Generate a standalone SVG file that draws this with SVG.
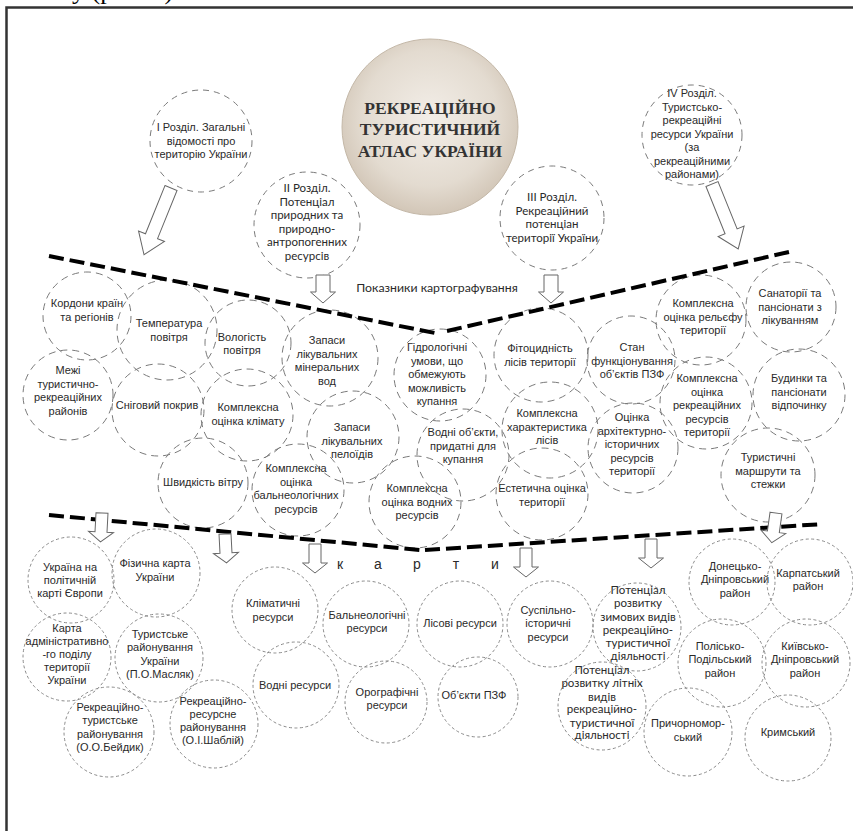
<svg xmlns="http://www.w3.org/2000/svg" width="853" height="831" viewBox="0 0 853 831">
<defs>
<radialGradient id="beige" cx="50%" cy="45%" r="55%">
<stop offset="0%" stop-color="#f3eee8"/>
<stop offset="70%" stop-color="#e3dbd0"/>
<stop offset="100%" stop-color="#d2c6b7"/>
</radialGradient>
<style>
.t{font-family:"Liberation Sans",Arial,sans-serif;font-size:11px;fill:#2a2a2a;text-anchor:middle}
.c{font-family:Lato,"Liberation Sans",sans-serif;font-size:11.5px;fill:#2a2a2a;text-anchor:middle}
.top{fill:none;stroke:#7a7a7a;stroke-width:1;stroke-dasharray:6 5}
.mid{fill:none;stroke:#7a7a7a;stroke-width:1;stroke-dasharray:7 5}
.bot{fill:none;stroke:#8a8a8a;stroke-width:1;stroke-dasharray:3 2.5}
.sep{fill:none;stroke:#000;stroke-width:4;stroke-dasharray:15 6}
.arr{fill:#fff;stroke:#666;stroke-width:1}
</style>
</defs>
<rect x="0" y="0" width="853" height="831" fill="#fff"/>
<text x="72" y="-1" font-family="Liberation Serif,serif" font-size="26" fill="#000">у (рис. 1)</text>
<rect x="6.5" y="7.5" width="900" height="900" fill="none" stroke="#333" stroke-width="2.5"/>

<g id="title">
<circle cx="430" cy="127" r="88" fill="url(#beige)" stroke="#c4b8a8" stroke-width="1"/>
<text font-family="Liberation Serif,serif" font-weight="bold" font-size="17.5" fill="#333" text-anchor="middle">
<tspan x="430" y="114">РЕКРЕАЦІЙНО</tspan><tspan x="430" y="135">ТУРИСТИЧНИЙ</tspan><tspan x="430" y="157">АТЛАС  УКРАЇНИ</tspan></text>
</g>

<g id="sec1"><circle class="top" cx="201" cy="141" r="51"/>
<text class="t"><tspan x="201" y="131">І Розділ. Загальні</tspan><tspan x="201" y="144.5">відомості про</tspan><tspan x="201" y="158">територію України</tspan></text></g>
<g id="sec2"><circle class="top" cx="307" cy="225" r="53"/>
<text class="c"><tspan x="307" y="192">II Розділ.</tspan><tspan x="307" y="205.5">Потенціал</tspan><tspan x="307" y="219">природних та</tspan><tspan x="307" y="232.5">природно-</tspan><tspan x="307" y="246">антропогенних</tspan><tspan x="307" y="259.5">ресурсів</tspan></text></g>
<g id="sec3"><circle class="top" cx="552" cy="218" r="52"/>
<text class="c"><tspan x="552" y="201">III Розділ.</tspan><tspan x="552" y="214.5">Рекреаційний</tspan><tspan x="552" y="228">потенціан</tspan><tspan x="552" y="241.5">території України</tspan></text></g>
<g id="sec4"><circle class="top" cx="692" cy="135" r="50"/>
<text class="t"><tspan x="692" y="97">ІV Розділ.</tspan><tspan x="692" y="110.5">Туристсько-</tspan><tspan x="692" y="124">рекреаційні</tspan><tspan x="692" y="137.5">ресурси України</tspan><tspan x="692" y="151">(за</tspan><tspan x="692" y="164.5">рекреаційними</tspan><tspan x="692" y="178">районами)</tspan></text></g>

<text id="lbl-pokaz" x="437" y="292" font-family="Lato,'Liberation Sans',sans-serif" font-size="12.3" fill="#2a2a2a" text-anchor="middle">Показники картографування</text>

<g id="m1"><circle class="mid" cx="87" cy="316" r="44"/><text class="t"><tspan x="87" y="307">Кордони країн</tspan><tspan x="87" y="321">та регіонів</tspan></text></g>
<g id="m2"><circle class="mid" cx="167" cy="330" r="50"/><text class="t"><tspan x="169" y="327">Температура</tspan><tspan x="169" y="341">повітря</tspan></text></g>
<g id="m3"><circle class="mid" cx="248" cy="343" r="43"/><text class="t"><tspan x="242" y="341">Вологість</tspan><tspan x="242" y="354">повітря</tspan></text></g>
<g id="m4"><circle class="mid" cx="68" cy="395" r="45"/><text class="t"><tspan x="68" y="374">Межі</tspan><tspan x="68" y="387.5">туристично-</tspan><tspan x="68" y="401">рекреаційних</tspan><tspan x="68" y="414.5">районів</tspan></text></g>
<g id="m5"><circle class="mid" cx="158" cy="410" r="46"/><text class="t"><tspan x="157" y="409">Сніговий покрив</tspan></text></g>
<g id="m6"><circle class="mid" cx="247" cy="415" r="46"/><text class="t"><tspan x="248" y="411">Комплексна</tspan><tspan x="248" y="424.5">оцінка клімату</tspan></text></g>
<g id="m7"><circle class="mid" cx="203" cy="483" r="45"/><text class="t"><tspan x="203" y="486">Швидкість вітру</tspan></text></g>
<g id="m8"><circle class="mid" cx="330" cy="358" r="48"/><text class="t"><tspan x="327" y="344">Запаси</tspan><tspan x="327" y="357.5">лікувальних</tspan><tspan x="327" y="371">мінеральних</tspan><tspan x="327" y="384.5">вод</tspan></text></g>
<g id="m9"><circle class="mid" cx="440" cy="375" r="46"/><text class="t"><tspan x="437" y="351">Гідрологічні</tspan><tspan x="437" y="364.5">умови, що</tspan><tspan x="437" y="378">обмежують</tspan><tspan x="437" y="391.5">можливість</tspan><tspan x="437" y="405">купання</tspan></text></g>
<g id="m10"><circle class="mid" cx="541" cy="355" r="47"/><text class="t"><tspan x="540" y="352">Фітоцидність</tspan><tspan x="540" y="366">лісів території</tspan></text></g>
<g id="m11"><circle class="mid" cx="353" cy="437" r="46"/><text class="t"><tspan x="352" y="431">Запаси</tspan><tspan x="352" y="444.5">лікувальних</tspan><tspan x="352" y="458">пелоїдів</tspan></text></g>
<g id="m12"><circle class="mid" cx="463" cy="455" r="46"/><text class="t"><tspan x="463" y="436">Водні об’єкти,</tspan><tspan x="463" y="449.5">придатні для</tspan><tspan x="463" y="463">купання</tspan></text></g>
<g id="m13"><circle class="mid" cx="550" cy="430" r="48"/><text class="t"><tspan x="547" y="417">Комплексна</tspan><tspan x="547" y="430.5">характеристика</tspan><tspan x="547" y="444">лісів</tspan></text></g>
<g id="m14"><circle class="mid" cx="298" cy="490" r="46"/><text class="t"><tspan x="296" y="472">Комплексна</tspan><tspan x="296" y="485.5">оцінка</tspan><tspan x="296" y="499">бальнеологічних</tspan><tspan x="296" y="512.5">ресурсів</tspan></text></g>
<g id="m15"><circle class="mid" cx="415" cy="502" r="46"/><text class="t"><tspan x="417" y="492">Комплексна</tspan><tspan x="417" y="505.5">оцінка водних</tspan><tspan x="417" y="519">ресурсів</tspan></text></g>
<g id="m16"><circle class="mid" cx="542" cy="494" r="46"/><text class="t"><tspan x="542" y="492">Естетична оцінка</tspan><tspan x="542" y="506">території</tspan></text></g>
<g id="m17"><circle class="mid" cx="701" cy="320" r="45"/><text class="t"><tspan x="703" y="307">Комплексна</tspan><tspan x="703" y="320.5">оцінка рельєфу</tspan><tspan x="703" y="334">території</tspan></text></g>
<g id="m18"><circle class="mid" cx="791" cy="307" r="45"/><text class="t"><tspan x="790" y="297">Санаторії та</tspan><tspan x="790" y="310.5">пансіонати з</tspan><tspan x="790" y="324">лікуванням</tspan></text></g>
<g id="m19"><circle class="mid" cx="631" cy="360" r="44"/><text class="t"><tspan x="632" y="351">Стан</tspan><tspan x="632" y="364.5">функціонування</tspan><tspan x="632" y="378">об’єктів ПЗФ</tspan></text></g>
<g id="m20"><circle class="mid" cx="706" cy="403" r="46"/><text class="t"><tspan x="707" y="382">Комплексна</tspan><tspan x="707" y="395.5">оцінка</tspan><tspan x="707" y="409">рекреаційних</tspan><tspan x="707" y="422.5">ресурсів</tspan><tspan x="707" y="436">території</tspan></text></g>
<g id="m21"><circle class="mid" cx="799" cy="395" r="46"/><text class="t"><tspan x="799" y="382">Будинки та</tspan><tspan x="799" y="395.5">пансіонати</tspan><tspan x="799" y="409">відпочинку</tspan></text></g>
<g id="m22"><circle class="mid" cx="633" cy="448" r="45"/><text class="t"><tspan x="632" y="421">Оцінка</tspan><tspan x="632" y="434.5">архітектурно-</tspan><tspan x="632" y="448">історичних</tspan><tspan x="632" y="461.5">ресурсів</tspan><tspan x="632" y="475">території</tspan></text></g>
<g id="m23"><circle class="mid" cx="768" cy="475" r="47"/><text class="t"><tspan x="768" y="461">Туристичні</tspan><tspan x="768" y="474.5">маршрути та</tspan><tspan x="768" y="488">стежки</tspan></text></g>

<g id="b1"><circle class="bot" cx="71" cy="580" r="43"/><text class="t"><tspan x="70" y="571">Україна на</tspan><tspan x="70" y="584">політичній</tspan><tspan x="70" y="597">карті Європи</tspan></text></g>
<g id="b2"><circle class="bot" cx="156" cy="573" r="44"/><text class="t"><tspan x="155" y="567">Фізична карта</tspan><tspan x="155" y="581">України</tspan></text></g>
<g id="b3"><circle class="bot" cx="67" cy="657" r="44"/><text class="t"><tspan x="67" y="632">Карта</tspan><tspan x="67" y="645">адміністративно</tspan><tspan x="67" y="658">-го поділу</tspan><tspan x="67" y="671">території</tspan><tspan x="67" y="684">України</tspan></text></g>
<g id="b4"><circle class="bot" cx="159" cy="658" r="44"/><text class="t"><tspan x="160" y="638">Туристське</tspan><tspan x="160" y="651">районування</tspan><tspan x="160" y="664.5">України</tspan><tspan x="160" y="678">(П.О.Масляк)</tspan></text></g>
<g id="b5"><circle class="bot" cx="109" cy="732" r="45"/><text class="t"><tspan x="110" y="711">Рекреаційно-</tspan><tspan x="110" y="724">туристське</tspan><tspan x="110" y="737.5">районування</tspan><tspan x="110" y="751">(О.О.Бейдик)</tspan></text></g>
<g id="b6"><circle class="bot" cx="214" cy="724" r="44"/><text class="t"><tspan x="213" y="705">Рекреаційно-</tspan><tspan x="213" y="718">ресурсне</tspan><tspan x="213" y="731">районування</tspan><tspan x="213" y="744">(О.І.Шаблій)</tspan></text></g>
<g id="b7"><circle class="bot" cx="275" cy="610" r="43"/><text class="t"><tspan x="273" y="607">Кліматичні</tspan><tspan x="273" y="621">ресурси</tspan></text></g>
<g id="b8"><circle class="bot" cx="366" cy="624" r="43"/><text class="t"><tspan x="367" y="619">Бальнеологічні</tspan><tspan x="367" y="632">ресурси</tspan></text></g>
<g id="b9"><circle class="bot" cx="460" cy="624" r="43"/><text class="t"><tspan x="460" y="627">Лісові ресурси</tspan></text></g>
<g id="b10"><circle class="bot" cx="550" cy="624" r="43"/><text class="t"><tspan x="548" y="614">Суспільно-</tspan><tspan x="548" y="627">історичні</tspan><tspan x="548" y="641">ресурси</tspan></text></g>
<g id="b11"><circle class="bot" cx="296" cy="685" r="43"/><text class="t"><tspan x="295" y="689">Водні ресурси</tspan></text></g>
<g id="b12"><circle class="bot" cx="386" cy="702" r="41"/><text class="t"><tspan x="387" y="696">Орографічні</tspan><tspan x="387" y="709">ресурси</tspan></text></g>
<g id="b13"><circle class="bot" cx="478" cy="697" r="40"/><text class="t"><tspan x="474" y="699">Об’єкти ПЗФ</tspan></text></g>
<g id="b14"><circle class="bot" cx="637" cy="627" r="44"/><text class="c" style="font-size:11.5px"><tspan x="638" y="594">Потенціал</tspan><tspan x="638" y="607">розвитку</tspan><tspan x="638" y="620.5">зимових видів</tspan><tspan x="638" y="634">рекреаційно-</tspan><tspan x="638" y="647">туристичної</tspan><tspan x="638" y="660">діяльності</tspan></text></g>
<g id="b15"><circle class="bot" cx="602" cy="706" r="44"/><text class="c" style="font-size:11.5px"><tspan x="602" y="674">Потенціал</tspan><tspan x="602" y="687">розвитку літніх</tspan><tspan x="602" y="700.5">видів</tspan><tspan x="602" y="713">рекреаційно-</tspan><tspan x="602" y="726.5">туристичної</tspan><tspan x="602" y="739">діяльності</tspan></text></g>
<g id="b16"><circle class="bot" cx="732" cy="582" r="43"/><text class="t"><tspan x="735" y="570">Донецько-</tspan><tspan x="735" y="583">Дніпровський</tspan><tspan x="735" y="597">район</tspan></text></g>
<g id="b17"><circle class="bot" cx="810" cy="582" r="43"/><text class="t"><tspan x="808" y="577">Карпатський</tspan><tspan x="808" y="590">район</tspan></text></g>
<g id="b18"><circle class="bot" cx="722" cy="663" r="44"/><text class="t"><tspan x="720" y="650">Полісько-</tspan><tspan x="720" y="663">Подільський</tspan><tspan x="720" y="677">район</tspan></text></g>
<g id="b19"><circle class="bot" cx="806" cy="663" r="44"/><text class="t"><tspan x="805" y="650">Київсько-</tspan><tspan x="805" y="663">Дніпровський</tspan><tspan x="805" y="677">район</tspan></text></g>
<g id="b20"><circle class="bot" cx="688" cy="732" r="44"/><text class="t"><tspan x="688" y="727">Причорномор-</tspan><tspan x="688" y="741">ський</tspan></text></g>
<g id="b21"><circle class="bot" cx="788" cy="738" r="43"/><text class="t"><tspan x="788" y="736">Кримський</tspan></text></g>

<g id="lbl-karty" font-family="'Liberation Sans',Arial,sans-serif" font-size="14" fill="#2a2a2a" text-anchor="middle">
<text x="340" y="569">к</text><text x="378" y="569">а</text><text x="417" y="569">р</text><text x="456" y="569">т</text><text x="495" y="569">и</text>
</g>

<g id="connectors">
<polyline class="sep" points="49,256 440,334"/>
<polyline class="sep" points="447,331 793,251"/>
<polyline class="sep" points="49,515 420,550"/>
<polyline class="sep" points="425,550 823,524"/>
<polygon class="arr" transform="translate(171,188) rotate(22)" points="-6.5,0 6.5,0 6.5,52 14,52 0,72 -14,52 -6.5,52"/>
<polygon class="arr" transform="translate(712,184) rotate(-22)" points="-6.5,0 6.5,0 6.5,51 14,51 0,70 -14,51 -6.5,51"/>
<polygon class="arr" transform="translate(323,275)" points="-7,0 7,0 7,17 12.5,17 0,28 -12.5,17 -7,17"/>
<polygon class="arr" transform="translate(551,275)" points="-7,0 7,0 7,17 12.5,17 0,28 -12.5,17 -7,17"/>
<polygon class="arr" transform="translate(102,513) rotate(3)" points="-6,0 6,0 6,19 12.5,19 0,29 -12.5,19 -6,19"/>
<polygon class="arr" transform="translate(225,534) rotate(-3)" points="-6,0 6,0 6,19 12.5,19 0,29 -12.5,19 -6,19"/>
<polygon class="arr" transform="translate(315,544)" points="-6,0 6,0 6,19 12.5,19 0,29 -12.5,19 -6,19"/>
<polygon class="arr" transform="translate(526,548)" points="-6,0 6,0 6,19 12.5,19 0,29 -12.5,19 -6,19"/>
<polygon class="arr" transform="translate(651,539)" points="-6,0 6,0 6,19 12.5,19 0,29 -12.5,19 -6,19"/>
<polygon class="arr" transform="translate(776,513) rotate(8)" points="-6,0 6,0 6,19 12.5,19 0,30 -12.5,19 -6,19"/>
</g>
</svg>
